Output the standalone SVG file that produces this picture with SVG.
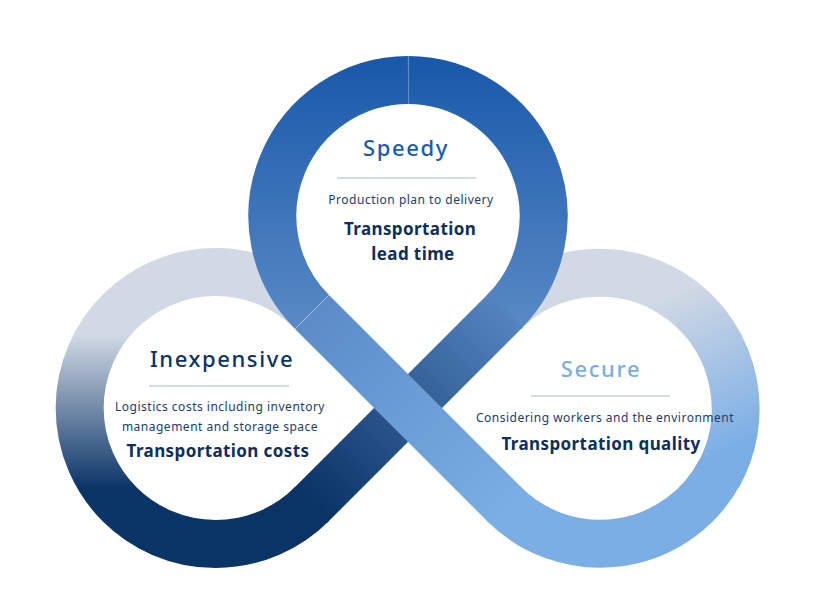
<svg xmlns="http://www.w3.org/2000/svg" width="816" height="612" viewBox="0 0 816 612">
  <defs>
    <linearGradient id="gTop" gradientUnits="userSpaceOnUse" x1="0" y1="56" x2="0" y2="330">
      <stop offset="0" stop-color="#1858aa"/>
      <stop offset="1" stop-color="#5a8ac5"/>
    </linearGradient>
    <linearGradient id="gLeft" gradientUnits="userSpaceOnUse" x1="0" y1="335" x2="0" y2="490">
      <stop offset="0" stop-color="#d1d9e4"/>
      <stop offset="1" stop-color="#0a3366"/>
    </linearGradient>
    <linearGradient id="gRight" gradientUnits="userSpaceOnUse" x1="680" y1="290" x2="750" y2="440">
      <stop offset="0" stop-color="#d1d9e4"/>
      <stop offset="1" stop-color="#7baee5"/>
    </linearGradient>
    <linearGradient id="gDark" gradientUnits="userSpaceOnUse" x1="504" y1="312" x2="312" y2="504">
      <stop offset="0" stop-color="#5383bf"/>
      <stop offset="1" stop-color="#0a3366"/>
    </linearGradient>
    <linearGradient id="gLight" gradientUnits="userSpaceOnUse" x1="312" y1="312" x2="504" y2="504">
      <stop offset="0" stop-color="#5b8cc7"/>
      <stop offset="1" stop-color="#7aade4"/>
    </linearGradient>
  </defs>
  <style>
    .band { fill: none; stroke-width: 48; stroke-linecap: butt; }
    .head { font-family: "Noto Sans", "Liberation Sans", sans-serif; font-size: 22px; font-weight: 500; letter-spacing: 1.6px; text-anchor: middle; }
    .sub { font-family: "Noto Sans", "Liberation Sans", sans-serif; font-size: 12px; fill: #213d6b; letter-spacing: 0.5px; text-anchor: middle; }
    .title { font-family: "Noto Sans", "Liberation Sans", sans-serif; font-size: 17px; font-weight: 700; fill: #0e2f5c; letter-spacing: 0.4px; text-anchor: middle; }
    .rule { fill: #d3dbe6; }
    .seam { stroke: #ffffff; stroke-opacity: 0.3; stroke-width: 1; }
  </style>
  <rect width="816" height="612" fill="#ffffff"/>

  <g id="node-inexpensive">
    <path class="band" stroke="url(#gLeft)" d="M312,504 A136,136 0 1 1 312,312"/>
    <text class="head" x="222" y="367" fill="#0b3366">Inexpensive</text>
    <rect class="rule" x="149" y="385" width="140" height="2"/>
    <text class="sub" x="220" y="411">Logistics costs including inventory</text>
    <text class="sub" x="220" y="431">management and storage space</text>
    <text class="title" x="218" y="457">Transportation costs</text>
  </g>

  <g id="node-secure">
    <path class="band" stroke="#7baee5" d="M504,504 A136,136 0 0 0 720.1,471.8"/>
    <path class="band" stroke="url(#gRight)" d="M717.8,476 A136,136 0 0 0 504,312"/>
    <text class="head" x="601" y="377" fill="#7aaee4">Secure</text>
    <rect class="rule" x="531" y="395" width="139" height="2"/>
    <text class="sub" x="605" y="422">Considering workers and the environment</text>
    <text class="title" x="601" y="450">Transportation quality</text>
  </g>

  <g id="node-speedy">
    <path class="band" stroke="url(#gTop)" d="M312,312 A136,136 0 0 1 408,80"/>
    <path class="band" stroke="url(#gTop)" d="M408,80 A136,136 0 0 1 504,312"/>
    <line class="seam" x1="408.5" y1="56" x2="408.5" y2="104"/>
    <text class="head" x="406" y="156" fill="#1c5bab">Speedy</text>
    <rect class="rule" x="337" y="177" width="139" height="2"/>
    <text class="sub" x="411" y="204">Production plan to delivery</text>
    <text class="title" x="410" y="235">Transportation</text>
    <text class="title" x="413" y="260">lead time</text>
  </g>

  <g id="connectors">
    <path class="band" stroke="url(#gDark)" d="M506,310 L310,506"/>
    <path class="band" stroke="url(#gLight)" d="M312,312 L506,506"/>
    <line class="seam" x1="295" y1="329" x2="329" y2="295"/>
  </g>
</svg>
